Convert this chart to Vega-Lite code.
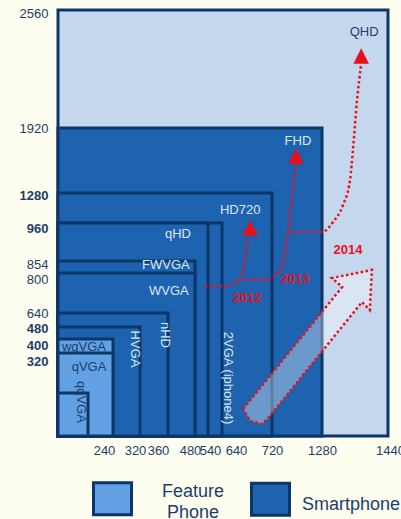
{
  "$schema": "https://vega.github.io/schema/vega-lite/v6.json",
  "width": 330,
  "height": 426,
  "autosize": "none",
  "padding": {"left": 58, "top": 10, "right": 13, "bottom": 83},
  "background": "#FEFEF0",
  "config": {"font": "Liberation Sans", "view": {"stroke": null}},
  "datasets": {
    "screens": [
      {"name": "QHD", "w": 1440, "h": 2560, "kind": "Next"},
      {"name": "FHD", "w": 1280, "h": 1920, "kind": "Smartphone"},
      {"name": "HD720", "w": 720, "h": 1280, "kind": "Smartphone"},
      {"name": "2VGA", "w": 640, "h": 960, "kind": "Smartphone"},
      {"name": "qHD", "w": 540, "h": 960, "kind": "Smartphone"},
      {"name": "FWVGA", "w": 480, "h": 854, "kind": "Smartphone"},
      {"name": "WVGA", "w": 480, "h": 800, "kind": "Smartphone"},
      {"name": "nHD", "w": 360, "h": 640, "kind": "Smartphone"},
      {"name": "HVGA", "w": 320, "h": 480, "kind": "Smartphone"},
      {"name": "wqVGA", "w": 240, "h": 400, "kind": "Feature Phone"},
      {"name": "qVGA", "w": 240, "h": 320, "kind": "Feature Phone"},
      {"name": "qqVGA", "w": 120, "h": 160, "kind": "Feature Phone"}
    ],
    "labels": [
      {"label": "QHD", "x": 1382, "y": 2441},
      {"label": "FHD", "x": 1011, "y": 1792},
      {"label": "HD720", "x": 669, "y": 1104},
      {"label": "qHD", "x": 404, "y": 929},
      {"label": "FWVGA", "x": 357, "y": 836},
      {"label": "WVGA", "x": 364, "y": 728},
      {"label": "nHD", "x": 356, "y": 427},
      {"label": "HVGA", "x": 305, "y": 343},
      {"label": "2VGA (iphone4)", "x": 650, "y": 220},
      {"label": "wqVGA", "x": 104, "y": 354},
      {"label": "qVGA", "x": 125, "y": 264},
      {"label": "qqVGA", "x": 92, "y": 127}
    ],
    "years": [
      {"year": "2012", "x": 680, "y": 700},
      {"year": "2013", "x": 978, "y": 776},
      {"year": "2014", "x": 1343, "y": 885}
    ],
    "paths": [
      {"path": "2012", "i": 0, "x": 526, "y": 744},
      {"path": "2012", "i": 1, "x": 653, "y": 752},
      {"path": "2012", "i": 2, "x": 666, "y": 772},
      {"path": "2012", "i": 3, "x": 674, "y": 814},
      {"path": "2012", "i": 4, "x": 678, "y": 871},
      {"path": "2012", "i": 5, "x": 682, "y": 921},
      {"path": "2013", "i": 0, "x": 666, "y": 772},
      {"path": "2013", "i": 1, "x": 714, "y": 776},
      {"path": "2013", "i": 2, "x": 787, "y": 805},
      {"path": "2013", "i": 3, "x": 854, "y": 862},
      {"path": "2013", "i": 4, "x": 910, "y": 954},
      {"path": "2013", "i": 5, "x": 966, "y": 1408},
      {"path": "2013", "i": 6, "x": 989, "y": 1566},
      {"path": "2014", "i": 0, "x": 922, "y": 935},
      {"path": "2014", "i": 1, "x": 1280, "y": 935},
      {"path": "2014", "i": 2, "x": 1307, "y": 971},
      {"path": "2014", "i": 3, "x": 1331, "y": 1152},
      {"path": "2014", "i": 4, "x": 1348, "y": 1408},
      {"path": "2014", "i": 5, "x": 1355, "y": 1703},
      {"path": "2014", "i": 6, "x": 1365, "y": 2072},
      {"path": "2014", "i": 7, "x": 1375, "y": 2267}
    ],
    "heads": [
      {"path": "2012", "x": 685, "y": 946},
      {"path": "2013", "x": 989, "y": 1644},
      {"path": "2014", "x": 1375, "y": 2311}
    ],
    "bigArrow": [
      {"i": 0, "x": 674, "y": 101},
      {"i": 1, "x": 1329, "y": 744},
      {"i": 2, "x": 1304, "y": 780},
      {"i": 3, "x": 1401, "y": 814},
      {"i": 4, "x": 1396, "y": 652},
      {"i": 5, "x": 1377, "y": 684},
      {"i": 6, "x": 714, "y": 67},
      {"i": 7, "x": 704, "y": 45},
      {"i": 8, "x": 685, "y": 56},
      {"i": 9, "x": 674, "y": 101}
    ]
  },
  "layer": [
    {
      "data": {"name": "screens"},
      "mark": {"type": "rect", "stroke": "#0C3666", "strokeWidth": 3, "opacity": 1},
      "encoding": {
        "x": {
          "field": "w", "type": "quantitative",
          "scale": {"domain": [0, 120, 240, 320, 360, 480, 540, 640, 720, 1280, 1440], "range": [0, 30, 55, 82, 110, 137, 150, 164, 214, 264, 330], "nice": false, "zero": false},
          "axis": {
            "values": [240, 320, 360, 480, 540, 640, 720, 1280, 1440],
            "format": "d",
            "title": null, "ticks": false, "domain": false, "grid": false,
            "labelFontSize": 13, "labelColor": "#1D3D6C", "labelPadding": 8,
            "labelFlush": false, "labelOverlap": false, "labelBound": false,
            "labelOffset": {
              "condition": [
                {"test": "datum.value == 240", "value": -9},
                {"test": "datum.value == 320", "value": -5},
                {"test": "datum.value == 360", "value": -10},
                {"test": "datum.value == 480", "value": -5},
                {"test": "datum.value == 540", "value": 2},
                {"test": "datum.value == 640", "value": 14},
                {"test": "datum.value == 1440", "value": 2}
              ],
              "value": 0
            }
          }
        },
        "x2": {"datum": 0},
        "y": {
          "field": "h", "type": "quantitative",
          "scale": {"domain": [0, 160, 320, 400, 480, 640, 800, 854, 960, 1280, 1920, 2560], "range": [426, 383, 343, 329, 317, 303, 263, 251, 213, 183, 118, 0], "nice": false, "zero": false},
          "axis": {
            "values": [320, 400, 480, 640, 800, 854, 960, 1280, 1920, 2560],
            "format": "d",
            "title": null, "ticks": false, "domain": false, "grid": false,
            "labelFontSize": 13, "labelColor": "#1D3D6C", "labelPadding": 10,
            "labelFlush": false, "labelOverlap": false, "labelBound": false,
            "labelFontWeight": {
              "condition": {"test": "indexof([320, 400, 480, 960, 1280], datum.value) >= 0", "value": "bold"},
              "value": "normal"
            },
            "labelOffset": {
              "condition": [
                {"test": "datum.value == 2560", "value": 3},
                {"test": "datum.value == 1280", "value": 2},
                {"test": "datum.value == 960", "value": 5},
                {"test": "datum.value == 854", "value": 3},
                {"test": "datum.value == 800", "value": 6},
                {"test": "datum.value == 480", "value": 1},
                {"test": "datum.value == 400", "value": 6},
                {"test": "datum.value == 320", "value": 8}
              ],
              "value": 0
            }
          }
        },
        "y2": {"datum": 0},
        "color": {
          "field": "kind", "type": "nominal",
          "scale": {"domain": ["Feature Phone", "Smartphone", "Next"], "range": ["#63A1E5", "#1E63B0", "#C5D7EC"]},
          "legend": {
            "values": ["Feature Phone", "Smartphone"],
            "title": null, "orient": "none", "legendX": 34, "legendY": 468,
            "direction": "horizontal",
            "symbolType": "M-1,-0.84L1,-0.84L1,0.84L-1,0.84Z",
            "symbolSize": 1444, "symbolStrokeColor": "#0C3666", "symbolStrokeWidth": 3, "symbolOpacity": 1,
            "labelFontSize": 18, "labelColor": "#1D3D6C", "labelAlign": "center", "labelOffset": 60,
            "columnPadding": 20, "labelLimit": 300,
            "labelExpr": "datum.label == 'Feature Phone' ? ['Feature', 'Phone'] : datum.label",
            "encode": {"labels": {"update": {"lineHeight": {"value": 21}, "dy": {"signal": "datum.label == 'Feature Phone' ? -7 : 6"}}}}
          }
        }
      }
    },
    {
      "data": {"name": "bigArrow"},
      "mark": {"type": "line", "interpolate": "linear", "fill": "#FFFFFF", "fillOpacity": 0.35, "stroke": "#E8101C", "strokeWidth": 2.5, "strokeDash": [2.5, 2.5]},
      "encoding": {
        "x": {"field": "x", "type": "quantitative", "scale": {"domain": [0, 120, 240, 320, 360, 480, 540, 640, 720, 1280, 1440], "range": [0, 30, 55, 82, 110, 137, 150, 164, 214, 264, 330], "nice": false, "zero": false}},
        "y": {"field": "y", "type": "quantitative", "scale": {"domain": [0, 160, 320, 400, 480, 640, 800, 854, 960, 1280, 1920, 2560], "range": [426, 383, 343, 329, 317, 303, 263, 251, 213, 183, 118, 0], "nice": false, "zero": false}},
        "order": {"field": "i", "type": "quantitative"}
      }
    },
    {
      "data": {"name": "paths"},
      "mark": {"type": "line", "interpolate": "monotone", "stroke": "#E8101C", "strokeWidth": 2.5, "strokeDash": [2.5, 2.5]},
      "encoding": {
        "x": {"field": "x", "type": "quantitative", "scale": {"domain": [0, 120, 240, 320, 360, 480, 540, 640, 720, 1280, 1440], "range": [0, 30, 55, 82, 110, 137, 150, 164, 214, 264, 330], "nice": false, "zero": false}},
        "y": {"field": "y", "type": "quantitative", "scale": {"domain": [0, 160, 320, 400, 480, 640, 800, 854, 960, 1280, 1920, 2560], "range": [426, 383, 343, 329, 317, 303, 263, 251, 213, 183, 118, 0], "nice": false, "zero": false}},
        "detail": {"field": "path", "type": "nominal"},
        "order": {"field": "i", "type": "quantitative"}
      }
    },
    {
      "data": {"name": "heads"},
      "mark": {"type": "point", "shape": "M0,-1L1,1L-1,1Z", "size": 240, "filled": true, "color": "#E8101C", "opacity": 1},
      "encoding": {
        "x": {"field": "x", "type": "quantitative", "scale": {"domain": [0, 120, 240, 320, 360, 480, 540, 640, 720, 1280, 1440], "range": [0, 30, 55, 82, 110, 137, 150, 164, 214, 264, 330], "nice": false, "zero": false}},
        "y": {"field": "y", "type": "quantitative", "scale": {"domain": [0, 160, 320, 400, 480, 640, 800, 854, 960, 1280, 1920, 2560], "range": [426, 383, 343, 329, 317, 303, 263, 251, 213, 183, 118, 0], "nice": false, "zero": false}}
      }
    },
    {
      "data": {"name": "years"},
      "mark": {"type": "text", "fontSize": 13, "fontWeight": "bold", "color": "#E8101C", "align": "center", "baseline": "middle"},
      "encoding": {
        "x": {"field": "x", "type": "quantitative", "scale": {"domain": [0, 120, 240, 320, 360, 480, 540, 640, 720, 1280, 1440], "range": [0, 30, 55, 82, 110, 137, 150, 164, 214, 264, 330], "nice": false, "zero": false}},
        "y": {"field": "y", "type": "quantitative", "scale": {"domain": [0, 160, 320, 400, 480, 640, 800, 854, 960, 1280, 1920, 2560], "range": [426, 383, 343, 329, 317, 303, 263, 251, 213, 183, 118, 0], "nice": false, "zero": false}},
        "text": {"field": "year"}
      }
    },
    {
      "data": {"name": "labels"},
      "transform": [{"filter": {"field": "label", "oneOf": ["FHD", "HD720", "qHD", "FWVGA", "WVGA"]}}],
      "mark": {"type": "text", "fontSize": 13, "color": "#DCE6F2", "align": "center", "baseline": "middle"},
      "encoding": {
        "x": {"field": "x", "type": "quantitative", "scale": {"domain": [0, 120, 240, 320, 360, 480, 540, 640, 720, 1280, 1440], "range": [0, 30, 55, 82, 110, 137, 150, 164, 214, 264, 330], "nice": false, "zero": false}},
        "y": {"field": "y", "type": "quantitative", "scale": {"domain": [0, 160, 320, 400, 480, 640, 800, 854, 960, 1280, 1920, 2560], "range": [426, 383, 343, 329, 317, 303, 263, 251, 213, 183, 118, 0], "nice": false, "zero": false}},
        "text": {"field": "label"}
      }
    },
    {
      "data": {"name": "labels"},
      "transform": [{"filter": {"field": "label", "oneOf": ["QHD", "wqVGA", "qVGA"]}}],
      "mark": {"type": "text", "fontSize": 13, "color": "#1D3D6C", "align": "center", "baseline": "middle"},
      "encoding": {
        "x": {"field": "x", "type": "quantitative", "scale": {"domain": [0, 120, 240, 320, 360, 480, 540, 640, 720, 1280, 1440], "range": [0, 30, 55, 82, 110, 137, 150, 164, 214, 264, 330], "nice": false, "zero": false}},
        "y": {"field": "y", "type": "quantitative", "scale": {"domain": [0, 160, 320, 400, 480, 640, 800, 854, 960, 1280, 1920, 2560], "range": [426, 383, 343, 329, 317, 303, 263, 251, 213, 183, 118, 0], "nice": false, "zero": false}},
        "text": {"field": "label"}
      }
    },
    {
      "data": {"name": "labels"},
      "transform": [{"filter": {"field": "label", "oneOf": ["nHD", "HVGA", "2VGA (iphone4)"]}}],
      "mark": {"type": "text", "fontSize": 13, "color": "#DCE6F2", "align": "center", "baseline": "middle", "angle": 90},
      "encoding": {
        "x": {"field": "x", "type": "quantitative", "scale": {"domain": [0, 120, 240, 320, 360, 480, 540, 640, 720, 1280, 1440], "range": [0, 30, 55, 82, 110, 137, 150, 164, 214, 264, 330], "nice": false, "zero": false}},
        "y": {"field": "y", "type": "quantitative", "scale": {"domain": [0, 160, 320, 400, 480, 640, 800, 854, 960, 1280, 1920, 2560], "range": [426, 383, 343, 329, 317, 303, 263, 251, 213, 183, 118, 0], "nice": false, "zero": false}},
        "text": {"field": "label"}
      }
    },
    {
      "data": {"name": "labels"},
      "transform": [{"filter": {"field": "label", "oneOf": ["qqVGA"]}}],
      "mark": {"type": "text", "fontSize": 13, "color": "#1D3D6C", "align": "center", "baseline": "middle", "angle": 90},
      "encoding": {
        "x": {"field": "x", "type": "quantitative", "scale": {"domain": [0, 120, 240, 320, 360, 480, 540, 640, 720, 1280, 1440], "range": [0, 30, 55, 82, 110, 137, 150, 164, 214, 264, 330], "nice": false, "zero": false}},
        "y": {"field": "y", "type": "quantitative", "scale": {"domain": [0, 160, 320, 400, 480, 640, 800, 854, 960, 1280, 1920, 2560], "range": [426, 383, 343, 329, 317, 303, 263, 251, 213, 183, 118, 0], "nice": false, "zero": false}},
        "text": {"field": "label"}
      }
    }
  ]
}
